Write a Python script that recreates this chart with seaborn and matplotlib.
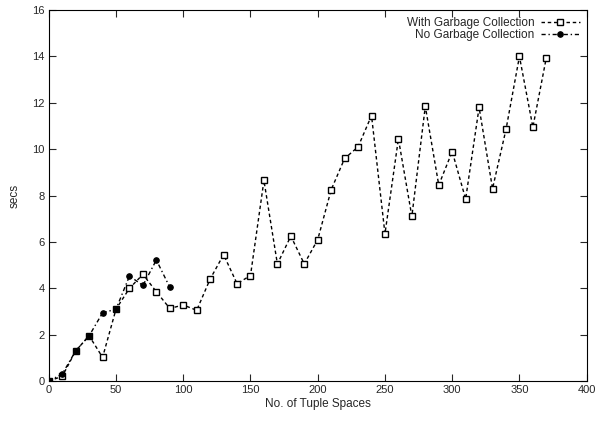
import matplotlib
matplotlib.use("Agg")
import matplotlib.pyplot as plt
import seaborn as sns
import pandas as pd

# Data
with_gc_x = [0, 10, 20, 30, 40, 50, 60, 70, 80, 90, 100, 110, 120, 130, 140, 150,
             160, 170, 180, 190, 200, 210, 220, 230, 240, 250, 260, 270, 280, 290,
             300, 310, 320, 330, 340, 350, 360, 370]
with_gc_y = [0.0, 0.2, 1.3, 1.95, 1.02, 3.1, 4.0, 4.6, 3.85, 3.13, 3.28, 3.05, 4.4,
             5.45, 4.2, 4.55, 8.65, 5.05, 6.25, 5.05, 6.1, 8.25, 9.6, 10.1, 11.45,
             6.35, 10.45, 7.1, 11.85, 8.45, 9.9, 7.85, 11.8, 8.3, 10.85, 14.0,
             10.95, 13.95]
no_gc_x = [0, 10, 20, 30, 40, 50, 60, 70, 80, 90]
no_gc_y = [0.0, 0.3, 1.3, 1.95, 2.94, 3.1, 4.53, 4.12, 5.22, 4.04]

sns.set_style("ticks")
plt.rcParams['font.family'] = ['Liberation Sans', 'DejaVu Sans']

df_gc = pd.DataFrame({'x': with_gc_x, 'y': with_gc_y})
df_nogc = pd.DataFrame({'x': no_gc_x, 'y': no_gc_y})

fig = plt.figure(figsize=(5.95, 4.21), dpi=100)
ax = fig.add_axes([0.082, 0.095, 0.904, 0.881])

sns.lineplot(data=df_gc, x='x', y='y', ax=ax, color='black', linewidth=1,
             linestyle=(0, (2.5, 2)), marker='s', markersize=4.5,
             markerfacecolor='white', markeredgecolor='black',
             markeredgewidth=1, label='With Garbage Collection')
sns.lineplot(data=df_nogc, x='x', y='y', ax=ax, color='black', linewidth=1,
             linestyle=(0, (3, 2, 1, 2)), marker='o', markersize=4,
             markerfacecolor='black', markeredgecolor='black',
             label='No Garbage Collection')

ax.set_xlim(0, 400)
ax.set_ylim(0, 16)
ax.set_xticks(range(0, 401, 50))
ax.set_yticks(range(0, 17, 2))
ax.set_xlabel('No. of Tuple Spaces', fontsize=8.5, labelpad=2)
ax.set_ylabel('secs', fontsize=8.5, labelpad=8)
ax.tick_params(direction='in', length=5, width=0.8, labelsize=8,
               top=True, right=True, pad=3)
for s in ax.spines.values():
    s.set_linewidth(0.8)
    s.set_color('black')

leg = ax.legend(loc='upper right', frameon=False, markerfirst=False,
                fontsize=8.5, handlelength=3.3, labelspacing=0.0,
                borderaxespad=0.2, handletextpad=0.5)
for t in leg.get_texts():
    t.set_ha('right')
leg._legend_box.align = 'right'

plt.savefig('out.png', dpi=100)
